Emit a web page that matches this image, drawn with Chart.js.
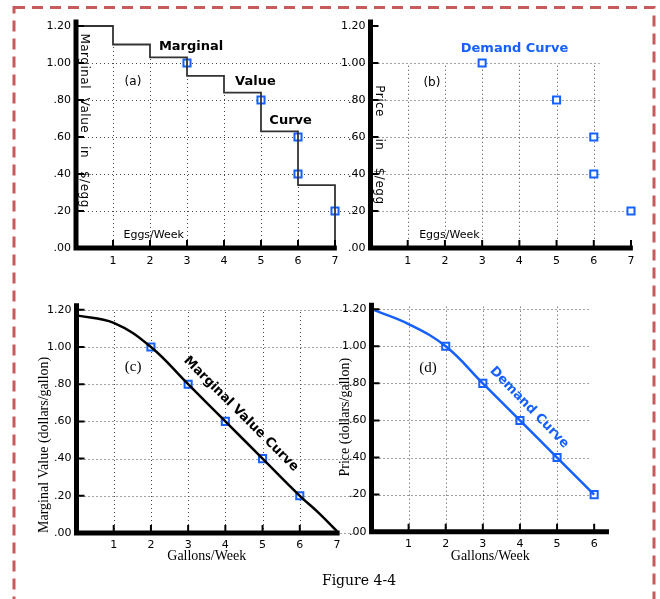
<!DOCTYPE html>
<html>
<head>
<meta charset="utf-8">
<script src="https://cdn.jsdelivr.net/npm/chart.js@4.4.1/dist/chart.umd.min.js"></script>
<style>
  html, body { margin: 0; padding: 0; background: #fff; }
  #wrap { position: relative; width: 660px; height: 599px; overflow: hidden; }
  #wrap canvas { position: absolute; }
  #frame { left: 0; top: 0; }
  #chartA { left: 0; top: 0; }
  #chartB { left: 330px; top: 0; }
  #chartC { left: 0; top: 280px; }
  #chartD { left: 330px; top: 280px; }
  #caption { position: absolute; left: 259px; width: 200px; top: 572px; text-align: center;
             font: 14px "DejaVu Serif"; color: #000; }
</style>
</head>
<body>
<div id="wrap">
  <canvas id="frame" width="660" height="599"></canvas>
  <canvas id="chartA" width="365" height="275"></canvas>
  <canvas id="chartB" width="330" height="275"></canvas>
  <canvas id="chartC" width="365" height="319"></canvas>
  <canvas id="chartD" width="330" height="319"></canvas>
  <div id="caption">Figure 4-4</div>
</div>
<script>
// eggs: marginal value of each additional egg (step curve)
const eggCount = [0, 1, 2, 3, 4, 5, 6, 7];
const eggValue = [1.20, 1.10, 1.03, 0.93, 0.84, 0.63, 0.34, 0];
// eggs: quantity bought at each price
const eggDemandQty = [3, 5, 6, 6, 7];
const eggDemandPrice = [1.00, 0.80, 0.60, 0.40, 0.20];

// milk: marginal value curve
const milkQty = [0, 1, 2, 3, 4, 5, 6, 6.5, 7];
const milkValue = [1.17, 1.13, 1.00, 0.80, 0.60, 0.40, 0.20, 0.11, 0.01];
// milk: demand curve and its marked points
const milkDemandQty = [0, 1, 2, 3, 4, 5, 6];
const milkDemandPrice = [1.20, 1.12, 1.00, 0.80, 0.60, 0.40, 0.20];
const milkPointQty = [2, 3, 4, 5, 6];
const milkPointPrice = [1.00, 0.80, 0.60, 0.40, 0.20];

// axis ticks
const yTickValues = [0, 0.2, 0.4, 0.6, 0.8, 1.0, 1.2];
const yTickLabels = [".00", ".20", ".40", ".60", ".80", "1.00", "1.20"];
const xTickValues = [1, 2, 3, 4, 5, 6, 7];

const blue = "#1560ff";
const yMax = 1.235;
const tickFont = { family: "DejaVu Sans", size: 11 };
const serifTitle = { family: "Liberation Serif", size: 14 };
const boldFont = 'bold 13px "DejaVu Sans"';
const smallFont = '11px "DejaVu Sans"';

// frame round the figure
const fctx = document.getElementById("frame").getContext("2d");
fctx.strokeStyle = "#c75a5a";
fctx.lineWidth = 3;
fctx.setLineDash([11, 7]);
fctx.strokeRect(14, 7.5, 640, 650);

const pick = (t, i) => (Array.isArray(t) ? t[i] : t);

// dotted grid, thick axes with inside ticks, and text placed in data units
const panelDecor = {
  id: "panelDecor",
  beforeDatasetsDraw(chart, args, opts) {
    const { ctx } = chart;
    const xs = chart.scales.x;
    const ys = chart.scales.y;
    ctx.save();
    ctx.strokeStyle = "#444";
    ctx.lineWidth = 1;
    ctx.setLineDash([1, 3]);
    ctx.beginPath();
    opts.hGrid.at.forEach((v, i) => {
      const py = Math.round(ys.getPixelForValue(v)) + 0.5;
      const to = pick(opts.hGrid.to, i);
      ctx.moveTo(xs.getPixelForValue(opts.hGrid.from), py);
      ctx.lineTo(to === "edge" ? chart.width : xs.getPixelForValue(to), py);
    });
    opts.vGrid.at.forEach((v, i) => {
      const px = Math.round(xs.getPixelForValue(v)) + 0.5;
      ctx.moveTo(px, ys.getPixelForValue(opts.vGrid.from));
      ctx.lineTo(px, ys.getPixelForValue(pick(opts.vGrid.to, i)));
    });
    ctx.stroke();
    ctx.restore();
  },
  afterDatasetsDraw(chart, args, opts) {
    const { ctx } = chart;
    const xs = chart.scales.x;
    const ys = chart.scales.y;
    const x0 = xs.getPixelForValue(0);
    const y0 = ys.getPixelForValue(0);
    ctx.save();
    ctx.strokeStyle = "#000";
    ctx.lineWidth = 5;
    ctx.beginPath();
    ctx.moveTo(x0, ys.top);
    ctx.lineTo(x0, y0 + 2.5);
    ctx.moveTo(x0, y0);
    ctx.lineTo(xs.getPixelForValue(opts.xEnd), y0);
    ctx.stroke();
    ctx.lineWidth = 2;
    ctx.beginPath();
    opts.xMarks.forEach((v) => {
      const px = xs.getPixelForValue(v);
      ctx.moveTo(px, y0);
      ctx.lineTo(px, y0 - 8);
    });
    yTickValues.slice(1).forEach((v) => {
      const py = ys.getPixelForValue(v);
      ctx.moveTo(x0, py);
      ctx.lineTo(x0 + 8, py);
    });
    ctx.stroke();

    opts.notes.forEach((n) => {
      ctx.save();
      ctx.translate(xs.getPixelForValue(n.x), ys.getPixelForValue(n.y));
      ctx.rotate(((n.angle || 0) * Math.PI) / 180);
      ctx.font = n.font;
      ctx.fillStyle = n.color || "#000";
      ctx.textAlign = n.align || "center";
      ctx.textBaseline = "middle";
      if (n.spacing) ctx.letterSpacing = n.spacing;
      ctx.fillText(n.text, 0, 0);
      ctx.restore();
    });
    ctx.restore();
  },
};

function axisScales(o) {
  return {
    x: {
      type: "linear",
      min: 0,
      max: o.xMax,
      afterBuildTicks: (s) => { s.ticks = o.xTicks.map((v) => ({ value: v })); },
      afterFit: (s) => { s.height = o.xHeight; },
      grid: { display: false, drawTicks: false },
      border: { display: false },
      ticks: { color: "#000", font: tickFont, padding: o.xPad, autoSkip: false, maxRotation: 0,
               callback: (v) => String(v) },
      title: { display: !!o.xTitle, text: o.xTitle || "", color: "#000", font: serifTitle, padding: 0 },
    },
    y: {
      type: "linear",
      min: 0,
      max: yMax,
      afterBuildTicks: (s) => { s.ticks = yTickValues.map((v) => ({ value: v })); },
      afterFit: (s) => { s.width = o.yWidth; },
      grid: { display: false, drawTicks: false },
      border: { display: false },
      ticks: { color: "#000", font: tickFont, padding: 5, autoSkip: false,
               callback: (v, i) => yTickLabels[i] },
      title: { display: !!o.yTitle, text: o.yTitle || "", color: "#000", font: serifTitle,
               padding: 0, align: o.yTitleAlign || "center" },
    },
  };
}

function curve(xv, yv, extra) {
  return Object.assign({
    data: xv.map((x, i) => ({ x: x, y: yv[i] })),
    pointRadius: 0,
    fill: false,
    clip: false,
  }, extra);
}

function markers(xv, yv) {
  return {
    data: xv.map((x, i) => ({ x: x, y: yv[i] })),
    showLine: false,
    pointStyle: "rect",
    pointRadius: 5,
    pointBorderWidth: 2,
    pointBorderColor: blue,
    pointBackgroundColor: "#fff",
    clip: false,
  };
}

function makeChart(id, datasets, padding, scaleOpts, decor) {
  return new Chart(document.getElementById(id), {
    type: "line",
    data: { datasets: datasets },
    options: {
      responsive: false,
      animation: false,
      events: [],
      layout: { padding: padding },
      scales: axisScales(scaleOpts),
      plugins: { legend: { display: false }, tooltip: { enabled: false }, panelDecor: decor },
    },
    plugins: [panelDecor],
  });
}

// (a) marginal value of eggs
makeChart("chartA",
  [
    curve(eggCount, eggValue, { stepped: true, borderColor: "#333", borderWidth: 1.8 }),
    markers(eggDemandQty, eggDemandPrice),
  ],
  { left: 36, top: 19.5, right: 30, bottom: 0 },
  { xMax: 7, xTicks: xTickValues, xHeight: 27, xPad: 7, yWidth: 40 },
  {
    xEnd: 7.05,
    xMarks: xTickValues,
    hGrid: { at: [0.2, 0.4, 0.6, 0.8, 1.0], from: 0, to: "edge" },
    vGrid: { at: [1, 2, 3, 4, 5, 6], from: 0, to: eggValue.slice(1, 7) },
    notes: [
      { text: "(a)", x: 1.54, y: 0.90, font: '12px "DejaVu Sans"' },
      { text: "Marginal", x: 3.11, y: 1.09, font: boldFont },
      { text: "Value", x: 4.85, y: 0.90, font: boldFont },
      { text: "Curve", x: 5.8, y: 0.69, font: boldFont },
      { text: "Eggs/Week", x: 2.1, y: 0.07, font: smallFont },
      { text: "Marginal  Value   in   $/egg", x: 0.22, y: 1.16, angle: 90, align: "left",
        font: '12px "DejaVu Sans"', spacing: "0.5px" },
    ],
  });

// (b) demand for eggs
makeChart("chartB",
  [markers(eggDemandQty, eggDemandPrice)],
  { left: 0.5, top: 19.5, right: 29, bottom: 0 },
  { xMax: 7, xTicks: xTickValues, xHeight: 27, xPad: 7, yWidth: 40 },
  {
    xEnd: 7.05,
    xMarks: xTickValues,
    hGrid: { at: [0.2, 0.4, 0.6, 0.8, 1.0], from: 0, to: [7, 6.15, 6.15, 6.15, 6.15] },
    vGrid: { at: [1, 2, 3, 4, 5, 6], from: 0.05, to: 1.0 },
    notes: [
      { text: "(b)", x: 1.65, y: 0.89, font: '12px "DejaVu Sans"' },
      { text: "Demand Curve", x: 3.87, y: 1.08, font: boldFont, color: blue },
      { text: "Eggs/Week", x: 2.12, y: 0.07, font: smallFont },
      { text: "Price     in    $/egg", x: 0.23, y: 0.88, angle: 90, align: "left",
        font: '12px "DejaVu Sans"', spacing: "0.5px" },
    ],
  });

// (c) marginal value of milk
makeChart("chartC",
  [
    curve(milkQty, milkValue, { borderColor: "#000", borderWidth: 2.5, tension: 0.4 }),
    markers(milkPointQty, milkPointPrice),
  ],
  { left: 35.5, top: 23.3, right: 28, bottom: 34 },
  { xMax: 7, xTicks: xTickValues, xHeight: 32, xPad: 5.5, yWidth: 41,
    xTitle: "Gallons/Week", yTitle: "Marginal Value (dollars/gallon)", yTitleAlign: "start" },
  {
    xEnd: 7.07,
    xMarks: xTickValues.slice(0, 6),
    hGrid: { at: [0, 0.2, 0.4, 0.6, 0.8, 1.0, 1.2], from: 0, to: "edge" },
    vGrid: { at: [1, 2, 3, 4, 5, 6], from: 0, to: 1.2 },
    notes: [
      { text: "(c)", x: 1.52, y: 0.89, font: '15px "Liberation Serif"' },
      { text: "Marginal Value Curve", x: 4.42, y: 0.64, angle: 45, font: boldFont },
    ],
  });

// (d) demand for milk
makeChart("chartD",
  [
    curve(milkDemandQty, milkDemandPrice, { borderColor: blue, borderWidth: 2.5, tension: 0.4 }),
    markers(milkPointQty, milkPointPrice),
  ],
  { left: 7.2, top: 22.7, right: 51, bottom: 34 },
  { xMax: 6.4, xTicks: xTickValues.slice(0, 6), xHeight: 33.3, xPad: 5.5, yWidth: 34.3,
    xTitle: "Gallons/Week", yTitle: "Price (dollars/gallon)" },
  {
    xEnd: 6.4,
    xMarks: xTickValues.slice(0, 6),
    hGrid: { at: [0.2, 0.4, 0.6, 0.8, 1.0, 1.2], from: 0, to: 5.9 },
    vGrid: { at: [1, 2, 3, 4, 5], from: 0, to: 1.22 },
    notes: [
      { text: "(d)", x: 1.52, y: 0.88, font: '15px "Liberation Serif"' },
      { text: "Demand Curve", x: 4.25, y: 0.67, angle: 46, font: boldFont, color: blue },
    ],
  });
</script>
</body>
</html>
